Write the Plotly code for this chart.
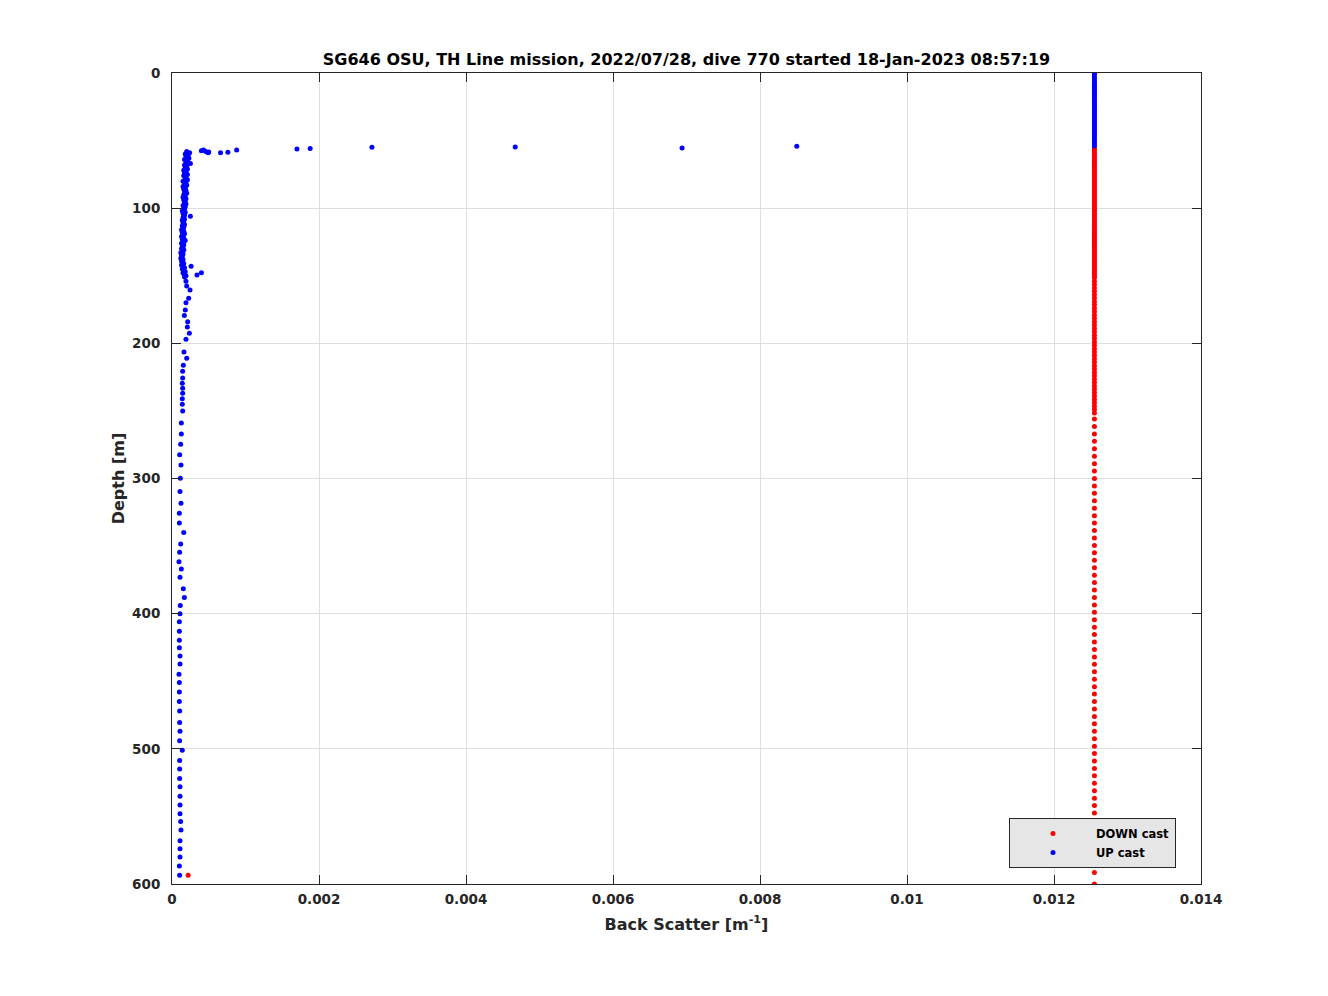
import plotly.graph_objects as go

TITLE = "SG646 OSU, TH Line mission, 2022/07/28, dive 770 started 18-Jan-2023 08:57:19"
X_TICKS = [0, 0.002, 0.004, 0.006, 0.008, 0.01, 0.012, 0.014]
X_TICK_LABELS = ["0", "0.002", "0.004", "0.006", "0.008", "0.01", "0.012", "0.014"]
Y_TICKS = [0, 100, 200, 300, 400, 500, 600]

# Saturated sensor value seen on the right-hand column
SATURATED = 0.01255

# DOWN cast: depths [m] (all at the saturated value) plus one real sample
down_depth_sat = [
    55.5, 57, 58.5, 60, 61.5, 63, 64.5, 66, 67.5, 69, 70.5, 72, 73.5, 75, 76.5, 78, 79.5, 81,
    82.5, 84, 85.5, 87, 88.5, 90, 91.5, 93, 94.5, 96, 97.5, 99, 100.5, 102, 103.5, 105, 106.5,
    108, 109.5, 111, 112.5, 114, 115.5, 117, 118.5, 120, 121.5, 123, 124.5, 126, 127.5, 129,
    130.5, 132, 133.5, 135, 136.5, 138, 139.5, 141, 142.5, 144, 145.5, 147, 148.5, 150, 151.5,
    154, 156.5, 159, 161.5, 164, 166.5, 169, 171.5, 174, 176.5, 179, 181.5, 184, 186.5, 189,
    191.5, 194, 196.5, 199, 201.5, 204, 206.5, 209, 211.5, 214, 216.5, 219, 221.5, 224, 226.5,
    229, 231.5, 234, 236.5, 239, 241.5, 244, 246.5, 249, 251.5,
    256, 261.5, 267, 272.5, 278, 283.5, 289, 294.5, 300, 305.5, 311, 316.5, 322, 327.5, 333,
    338.5, 344, 349.5, 355, 360.5, 366, 371.5, 377, 382.5, 388, 393.5, 399, 404.5, 410, 415.5,
    421, 426.5, 432, 437.5, 443, 448.5, 454, 459.5, 465, 470.5, 476, 481.5, 487, 492.5, 498,
    503.5, 509, 514.5, 520, 525.5, 531, 536.5, 542, 547.5, 553, 558.5, 564, 569.5, 575, 580.5,
    586, 591.5, 600,
]
down_depth_real = [593.5]
down_bs_real = [0.00022]

# UP cast: near-surface saturated samples
up_depth_sat = [
    0, 1.5, 3, 4.5, 6, 7.5, 9, 10.5, 12, 13.5, 15, 16.5, 18, 19.5, 21, 22.5, 24, 25.5, 27,
    28.5, 30, 31.5, 33, 34.5, 36, 37.5, 39, 40.5, 42, 43.5, 45, 46.5, 48, 49.5, 51, 52.5, 54,
]

# UP cast: profile samples (depth [m], back scatter [1/m])
up_depth = [
    54.2, 54.8, 55.0, 55.5, 55.8, 56.2, 57.0, 57.0, 57.5, 58.0, 58.5, 58.7, 59.0, 59.0,
    58, 59, 60, 61, 62, 63, 64, 65, 66, 67, 68, 69, 70, 71, 72, 73, 74, 75, 76, 77, 78, 79,
    80, 81, 82, 83, 84, 85, 86, 87, 88, 89, 90, 91, 92, 93, 94, 95, 96, 97, 98, 99, 100, 101,
    102, 103, 104, 105, 106, 107, 108, 109, 110, 111, 112, 113, 114, 115, 116, 117, 118, 119,
    120, 121, 122, 123, 124, 125, 126, 127, 128, 129, 130, 131, 132, 133, 134, 135, 136, 137,
    138, 139, 140, 141, 142, 143, 144, 145, 146, 147, 148, 149, 150,
    67, 106, 143, 147.7, 149.5,
    151, 154, 157.6, 160.5, 166.7, 170, 175.3, 179.5, 184, 188, 192.6, 197, 206.4, 211,
    216.3, 220.7, 225.6, 229.6, 233.3, 237, 241, 245, 250, 259, 267, 274.7, 282.4, 290,
    299.9, 309.7, 318.4, 325.8, 333, 340, 348.5, 354.6, 361.5, 367, 373, 381.5, 388, 394,
    400, 406, 413, 419.6, 425.3, 431.3, 437.3, 444.8, 451, 458, 465, 472, 480.6, 487, 494,
    501, 508.6, 515, 522, 528, 535, 541.5, 548, 553.7, 560, 568, 574, 580, 586.7, 593.5,
]
up_bs = [
    0.0085, 0.00467, 0.00272, 0.00694, 0.00188, 0.0017, 0.00088, 0.00043, 0.00040, 0.00046,
    0.00050, 0.00076, 0.00049, 0.00066,
    0.00020, 0.00024, 0.00018, 0.00022, 0.00019, 0.00023, 0.00017, 0.00021, 0.00019, 0.00022,
    0.00017, 0.00020, 0.00018, 0.00021, 0.00016, 0.00019, 0.00017, 0.00021, 0.00016, 0.00019,
    0.00018, 0.00021, 0.00015, 0.00019, 0.00017, 0.00020, 0.00015, 0.00018, 0.00016, 0.00019,
    0.00017, 0.00020, 0.00016, 0.00018, 0.00015, 0.00019, 0.00016, 0.00018, 0.00017, 0.00019,
    0.00015, 0.00018, 0.00016, 0.00017, 0.00014, 0.00018, 0.00015, 0.00017, 0.00016, 0.00015,
    0.00017, 0.00014, 0.00016, 0.00015, 0.00017, 0.00014, 0.00016, 0.00015, 0.00013, 0.00016,
    0.00014, 0.00017, 0.00015, 0.00013, 0.00016, 0.00014, 0.00018, 0.00015, 0.00013, 0.00016,
    0.00014, 0.00015, 0.00013, 0.00016, 0.00014, 0.00012, 0.00015, 0.00013, 0.00014, 0.00012,
    0.00015, 0.00013, 0.00014, 0.00016, 0.00013, 0.00015, 0.00017, 0.00014, 0.00016, 0.00018,
    0.00015, 0.00017, 0.00019,
    0.00025, 0.00025, 0.00026, 0.00040, 0.00034,
    0.00017, 0.00019, 0.00020, 0.000245, 0.000227, 0.00019, 0.000181, 0.000168, 0.000213,
    0.000209, 0.000236, 0.00019, 0.000163, 0.00020, 0.000154, 0.000145, 0.000145, 0.00014,
    0.000145, 0.000145, 0.00014, 0.00014, 0.000145, 0.000127, 0.000127, 0.000118, 0.000104,
    0.000122, 0.000113, 0.000109, 0.000122, 0.00010, 0.00010, 0.00016, 0.000118, 0.000104,
    0.000095, 0.000127, 0.000109, 0.000154, 0.000168, 0.000113, 0.000109, 0.00010, 0.00010,
    0.00010, 0.00010, 0.000109, 0.000109, 0.000095, 0.00010, 0.00010, 0.00010, 0.000104,
    0.000104, 0.000109, 0.000104, 0.00014, 0.000104, 0.000104, 0.000104, 0.000109, 0.000109,
    0.000109, 0.000109, 0.000118, 0.000122, 0.000109, 0.000109, 0.000109, 0.00010, 0.000104,
]

FONT = "DejaVu Sans"
TXT = "#262626"

fig = go.Figure()
fig.add_trace(go.Scatter(
    x=[SATURATED] * len(down_depth_sat) + down_bs_real,
    y=down_depth_sat + down_depth_real,
    mode="markers", name="DOWN cast",
    marker=dict(color="rgb(255,0,0)", size=5, line=dict(width=0)),
))
fig.add_trace(go.Scatter(
    x=[SATURATED] * len(up_depth_sat) + up_bs,
    y=up_depth_sat + up_depth,
    mode="markers", name="UP cast",
    marker=dict(color="rgb(0,0,255)", size=5, line=dict(width=0)),
))

axis_common = dict(
    showline=True, linecolor="#262626", linewidth=1, mirror="ticks",
    ticks="inside", ticklen=9, tickcolor="#262626", tickwidth=1,
    showgrid=True, gridcolor="#dfdfdf", gridwidth=1, zeroline=False,
    tickfont=dict(family=FONT, size=13.5, color=TXT, weight="bold"),
)

W, H = 1312, 980
fig.update_layout(
    width=W, height=H,
    margin=dict(l=164, r=119, t=65, b=104),
    paper_bgcolor="white", plot_bgcolor="white",
    font=dict(family=FONT, color=TXT),
    title=dict(text=TITLE, x=0.5, xanchor="center", xref="paper",
               y=1 - 51 / H, yanchor="middle", yref="container",
               font=dict(family=FONT, size=16, color="black", weight="bold")),
    xaxis=dict(range=[0, 0.014], tickvals=X_TICKS, ticktext=X_TICK_LABELS,
               ticklabelstandoff=3,
               title=dict(text="Back Scatter [m<sup>-1</sup>]", standoff=12,
                          font=dict(family=FONT, size=16, color=TXT, weight="bold")),
               **axis_common),
    yaxis=dict(range=[600, 0], tickvals=Y_TICKS,
               ticklabelstandoff=8,
               title=dict(text="Depth [m]", standoff=3,
                          font=dict(family=FONT, size=16, color=TXT, weight="bold")),
               **axis_common),
    showlegend=True,
    legend=dict(x=(1009 - 172) / 1029, y=(884 - 818) / 811, xanchor="left", yanchor="top",
                bgcolor="#e6e6e6", bordercolor="#262626", borderwidth=1,
                itemwidth=76, tracegroupgap=0,
                font=dict(family=FONT, size=11.5, color="black", weight="bold")),
)

fig.write_html("out.html")
